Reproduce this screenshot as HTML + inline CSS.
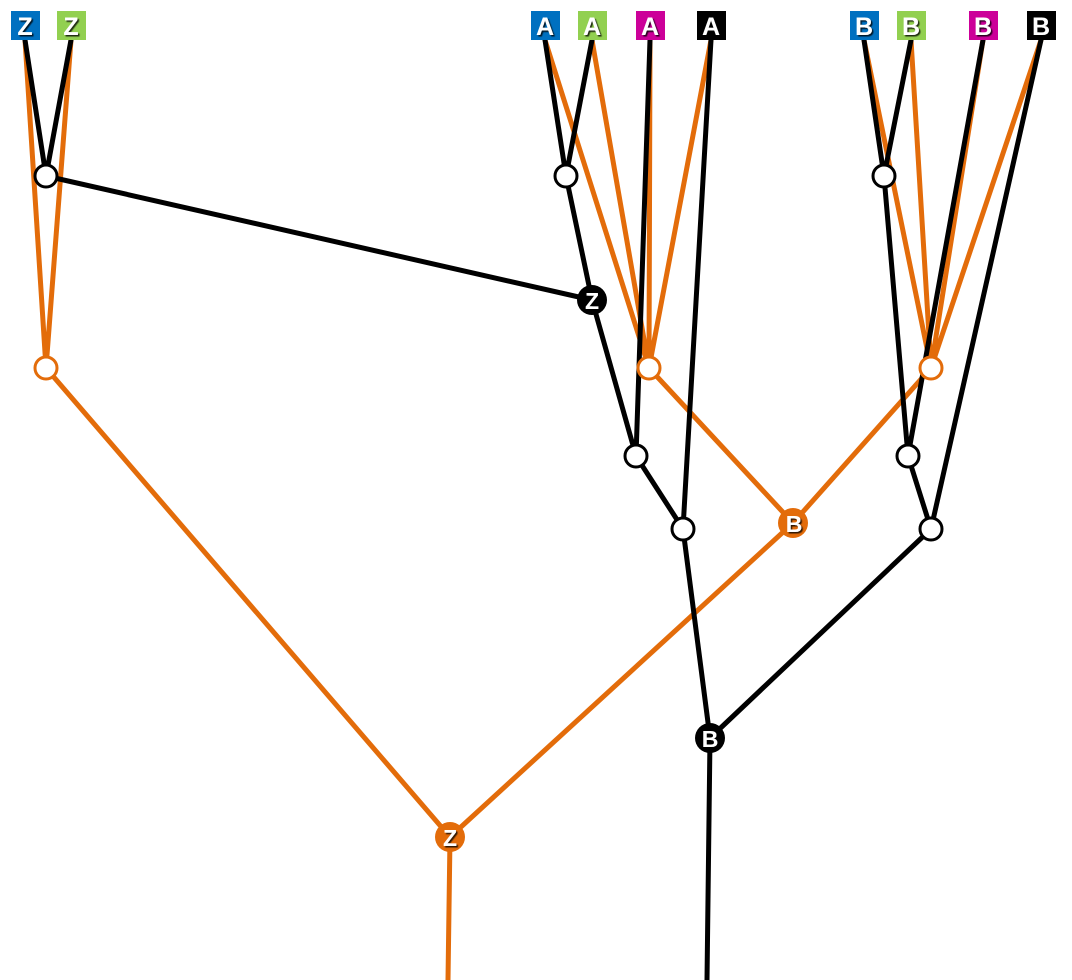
<!DOCTYPE html>
<html><head><style>
html,body{margin:0;padding:0;background:#fff;}
svg{display:block;}
text{font-family:"Liberation Sans",sans-serif;font-weight:bold;fill:#fff;text-anchor:middle;}
</style></head><body>
<svg width="1072" height="980" viewBox="0 0 1072 980" xmlns="http://www.w3.org/2000/svg">
<defs><filter id="sh" x="-20%" y="-20%" width="150%" height="150%"><feDropShadow dx="1.5" dy="1.5" stdDeviation="0.6" flood-color="#000" flood-opacity="0.8"/></filter></defs>
<g stroke="#e36c0a" stroke-width="5" fill="none" stroke-linecap="round">
<path d="M25,40L46,368M71,40L46,368M46,368L450,837M545,40L649,368M592,40L649,368M650,40L649,368M711,40L649,368M649,368L793,523M864,40L931,368M911,40L931,368M983,40L931,368M1041,40L931,368M931,368L793,523M793,523L450,837M450,837L448,980"/>
</g>
<g stroke="#000" stroke-width="5" fill="none" stroke-linecap="round">
<path d="M25,40L46,176M71,40L46,176M46,176L592,300M545,40L566,176M592,40L566,176M566,176L592,300L636,456M650,40L636,456M636,456L683,529M711,40L683,529M683,529L710,738M864,40L884,176M911,40L884,176M884,176L908,456M983,40L908,456M908,456L931,529M1041,40L931,529M931,529L710,738M710,738L707,980"/>
</g>
<g stroke-width="3" fill="#fff">
<circle cx="46" cy="368" r="11" stroke="#e36c0a"/>
<circle cx="649" cy="368" r="11" stroke="#e36c0a"/>
<circle cx="931" cy="368" r="11" stroke="#e36c0a"/>
<circle cx="46" cy="176" r="11" stroke="#000"/>
<circle cx="566" cy="176" r="11" stroke="#000"/>
<circle cx="884" cy="176" r="11" stroke="#000"/>
<circle cx="636" cy="456" r="11" stroke="#000"/>
<circle cx="683" cy="529" r="11" stroke="#000"/>
<circle cx="908" cy="456" r="11" stroke="#000"/>
<circle cx="931" cy="529" r="11" stroke="#000"/>
</g>
<circle cx="592" cy="300" r="15" fill="#000"/>
<circle cx="710" cy="738" r="15" fill="#000"/>
<circle cx="793" cy="523" r="15" fill="#e36c0a"/>
<circle cx="450" cy="837" r="15" fill="#e36c0a"/>
<g font-size="23" filter="url(#sh)">
<text x="592" y="309">Z</text>
<text x="710" y="747">B</text>
<text x="794" y="532">B</text>
<text x="450" y="846">Z</text>
</g>
<g>
<rect x="11" y="11" width="29" height="29" fill="#0070c0"/>
<rect x="57" y="11" width="29" height="29" fill="#92d050"/>
<rect x="531" y="11" width="29" height="29" fill="#0070c0"/>
<rect x="578" y="11" width="29" height="29" fill="#92d050"/>
<rect x="636" y="11" width="29" height="29" fill="#cc0099"/>
<rect x="697" y="11" width="29" height="29" fill="#000"/>
<rect x="850" y="11" width="29" height="29" fill="#0070c0"/>
<rect x="897" y="11" width="29" height="29" fill="#92d050"/>
<rect x="969" y="11" width="29" height="29" fill="#cc0099"/>
<rect x="1027" y="11" width="29" height="29" fill="#000"/>
</g>
<g font-size="25" filter="url(#sh)">
<text x="25" y="35">Z</text>
<text x="71" y="35">Z</text>
<text x="545" y="35">A</text>
<text x="592" y="35">A</text>
<text x="650" y="35">A</text>
<text x="711" y="35">A</text>
<text x="864" y="35">B</text>
<text x="911" y="35">B</text>
<text x="983" y="35">B</text>
<text x="1041" y="35">B</text>
</g>
</svg>
</body></html>
